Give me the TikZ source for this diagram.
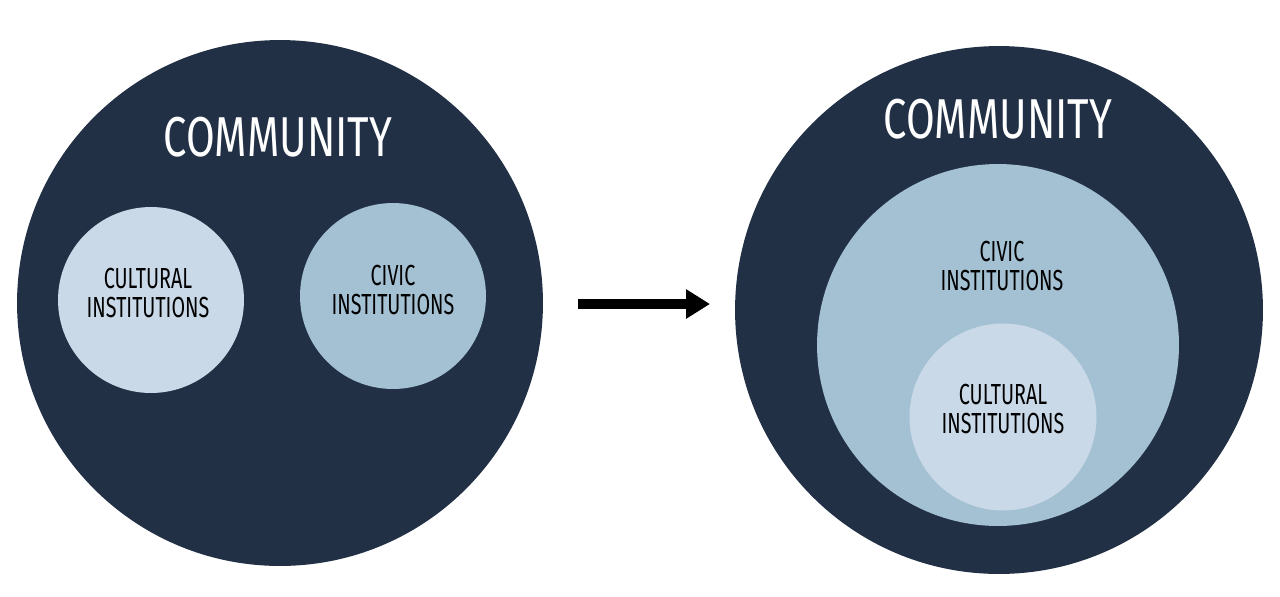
\documentclass[tikz,border=0pt]{standalone}
\usepackage{fontspec}
\setmainfont{Fira Sans}[FakeStretch=0.74]
\newfontfamily\narrowfont{Fira Sans}[FakeStretch=0.68]
\usepackage{tikz}
\usetikzlibrary{arrows.meta, positioning}

\definecolor{navy}{HTML}{213045}
\definecolor{civicblue}{HTML}{A4C1D3}
\definecolor{culturalblue}{HTML}{C9D9E8}

\begin{document}
\begin{tikzpicture}[x=0.02cm, y=-0.02cm,
    disc/.style={circle, inner sep=0pt},
    bigtitle/.style={text=white, font=\fontsize{32}{36}\selectfont},
    smalltext/.style={text=black, align=center, font=\narrowfont\fontsize{16.5}{17}\selectfont}]
  \useasboundingbox (0,0) rectangle (1280,596);

  % Left: community with two separate circles
  \node[disc, fill=navy, minimum size=10.52cm] (commL) at (280,303) {};
  \node[bigtitle] (titleL) at (278,137) {COMMUNITY};
  \node[disc, fill=culturalblue, minimum size=3.72cm] (cultL) at (151,300) {};
  \node[smalltext] (cultLtext) at (148,293) {CULTURAL\\INSTITUTIONS};
  \node[disc, fill=civicblue, minimum size=3.72cm] (civicL) at (393,296) {};
  \node[smalltext] (civicLtext) at (393,290) {CIVIC\\INSTITUTIONS};

  % Right: cultural nested inside civic
  \node[disc, fill=navy, minimum size=10.56cm] (commR) at (999,310) {};
  \node[bigtitle] (titleR) at (998,119) {COMMUNITY};
  \node[disc, fill=civicblue, minimum size=7.24cm] (civicR) at (998,345) {};
  \node[smalltext] (civicRtext) at (1002,266) {CIVIC\\INSTITUTIONS};
  \node[disc, fill=culturalblue, minimum size=3.74cm] (cultR) at (1003,417) {};
  \node[smalltext] (cultRtext) at (1003,409) {CULTURAL\\INSTITUTIONS};

  % Arrow between the two
  \coordinate (arrowS) at (578,304);
  \coordinate (arrowE) at (710,304);
  \draw[line width=0.2cm, -{Triangle[length=0.48cm, width=0.56cm]}] (arrowS) -- (arrowE);
\end{tikzpicture}
\end{document}
